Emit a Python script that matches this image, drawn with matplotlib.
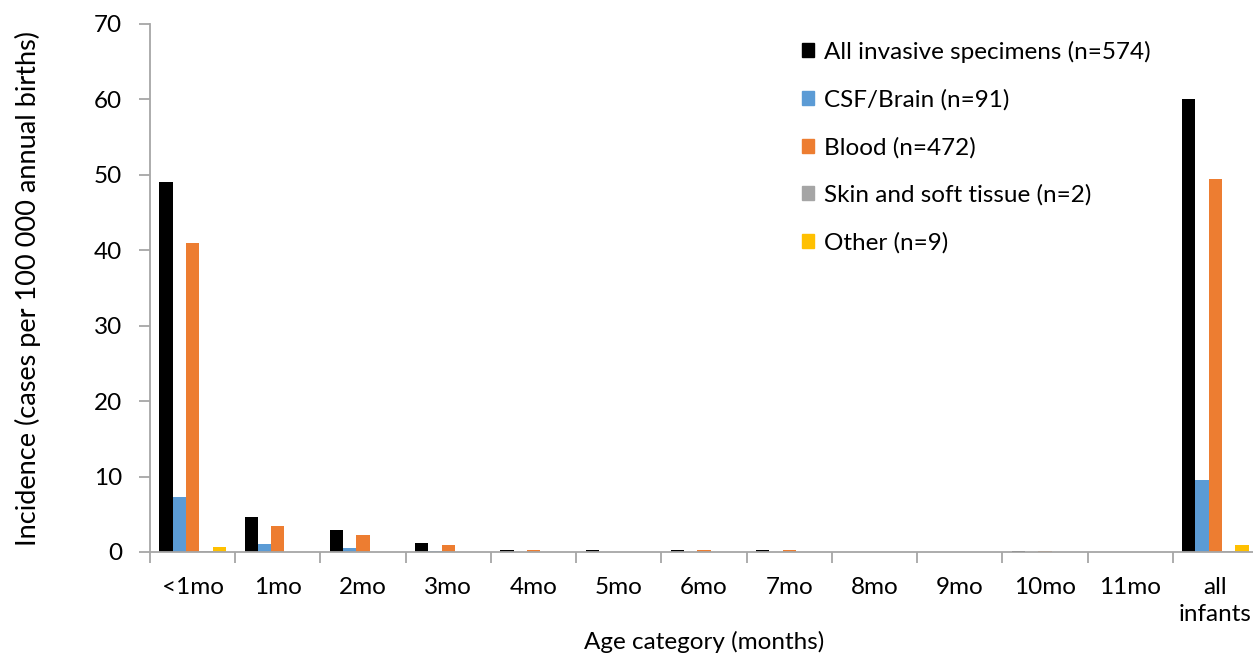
import numpy as np
import matplotlib.pyplot as plt
from matplotlib.patches import Patch

plt.rcParams['font.family'] = ['Lato', 'DejaVu Sans']
fs = 17.5

categories = ['<1mo', '1mo', '2mo', '3mo', '4mo', '5mo', '6mo', '7mo',
              '8mo', '9mo', '10mo', '11mo', 'all\ninfants']

all_invasive = [49.1, 4.6, 2.9, 1.25, 0.27, 0.2, 0.2, 0.27, 0, 0.05, 0.13, 0.05, 60.1]
csf_brain = [7.3, 1.0, 0.55, 0.13, 0.03, 0.03, 0, 0, 0, 0, 0, 0, 9.5]
blood = [40.9, 3.45, 2.3, 0.93, 0.27, 0.03, 0.2, 0.27, 0, 0.05, 0.1, 0.05, 49.4]
skin = [0.1, 0, 0, 0, 0, 0, 0, 0, 0, 0, 0, 0, 0.15]
other = [0.66, 0, 0, 0.05, 0, 0.03, 0, 0, 0, 0, 0, 0, 0.9]

series = [
    ("All invasive specimens (n=574)", all_invasive, '#000000'),
    ("CSF/Brain (n=91)", csf_brain, '#5B9BD5'),
    ("Blood (n=472)", blood, '#ED7D31'),
    ("Skin and soft tissue (n=2)", skin, '#A5A5A5'),
    ("Other (n=9)", other, '#FFC000'),
]

fig = plt.figure(figsize=(12.53, 6.57), dpi=100)
ax = fig.add_axes([150 / 1253, 1 - 552 / 657, 1108 / 1253, 528 / 657])

x = np.arange(len(categories))
w = 0.156
handles = []
for i, (name, vals, col) in enumerate(series):
    ax.bar(x + (i - 2) * w, vals, w, color=col, edgecolor='none')
    handles.append(Patch(color=col, label=name))

ax.set_xlim(-0.5, len(categories) - 0.5)
ax.set_ylim(0, 70)
ax.set_yticks(range(0, 71, 10))
ax.set_xticks(x)
ax.set_xticklabels(categories, linespacing=1.35)
ax.set_xticks(np.arange(-0.5, len(categories), 1), minor=True)
ax.tick_params(axis='x', which='major', length=0, labelsize=fs, pad=18)
ax.tick_params(axis='x', which='minor', length=8, color='#A6A6A6', width=1.3)
ax.tick_params(axis='y', length=8, color='#A6A6A6', width=1.3, labelsize=fs, pad=12)

for s in ['top', 'right']:
    ax.spines[s].set_visible(False)
for s in ['left', 'bottom']:
    ax.spines[s].set_color('#A6A6A6')
    ax.spines[s].set_linewidth(1.3)

ax.set_xlabel('Age category (months)', fontsize=fs, labelpad=4)
ax.set_ylabel('Incidence (cases per 100 000 annual births)', fontsize=19.5, labelpad=38)

ax.legend(handles=handles, loc='upper left', bbox_to_anchor=(0.569, 1.01),
          frameon=False, fontsize=fs, handlelength=0.5, handleheight=0.5,
          handletextpad=0.4, labelspacing=1.08)

plt.savefig('out.png', dpi=100)
